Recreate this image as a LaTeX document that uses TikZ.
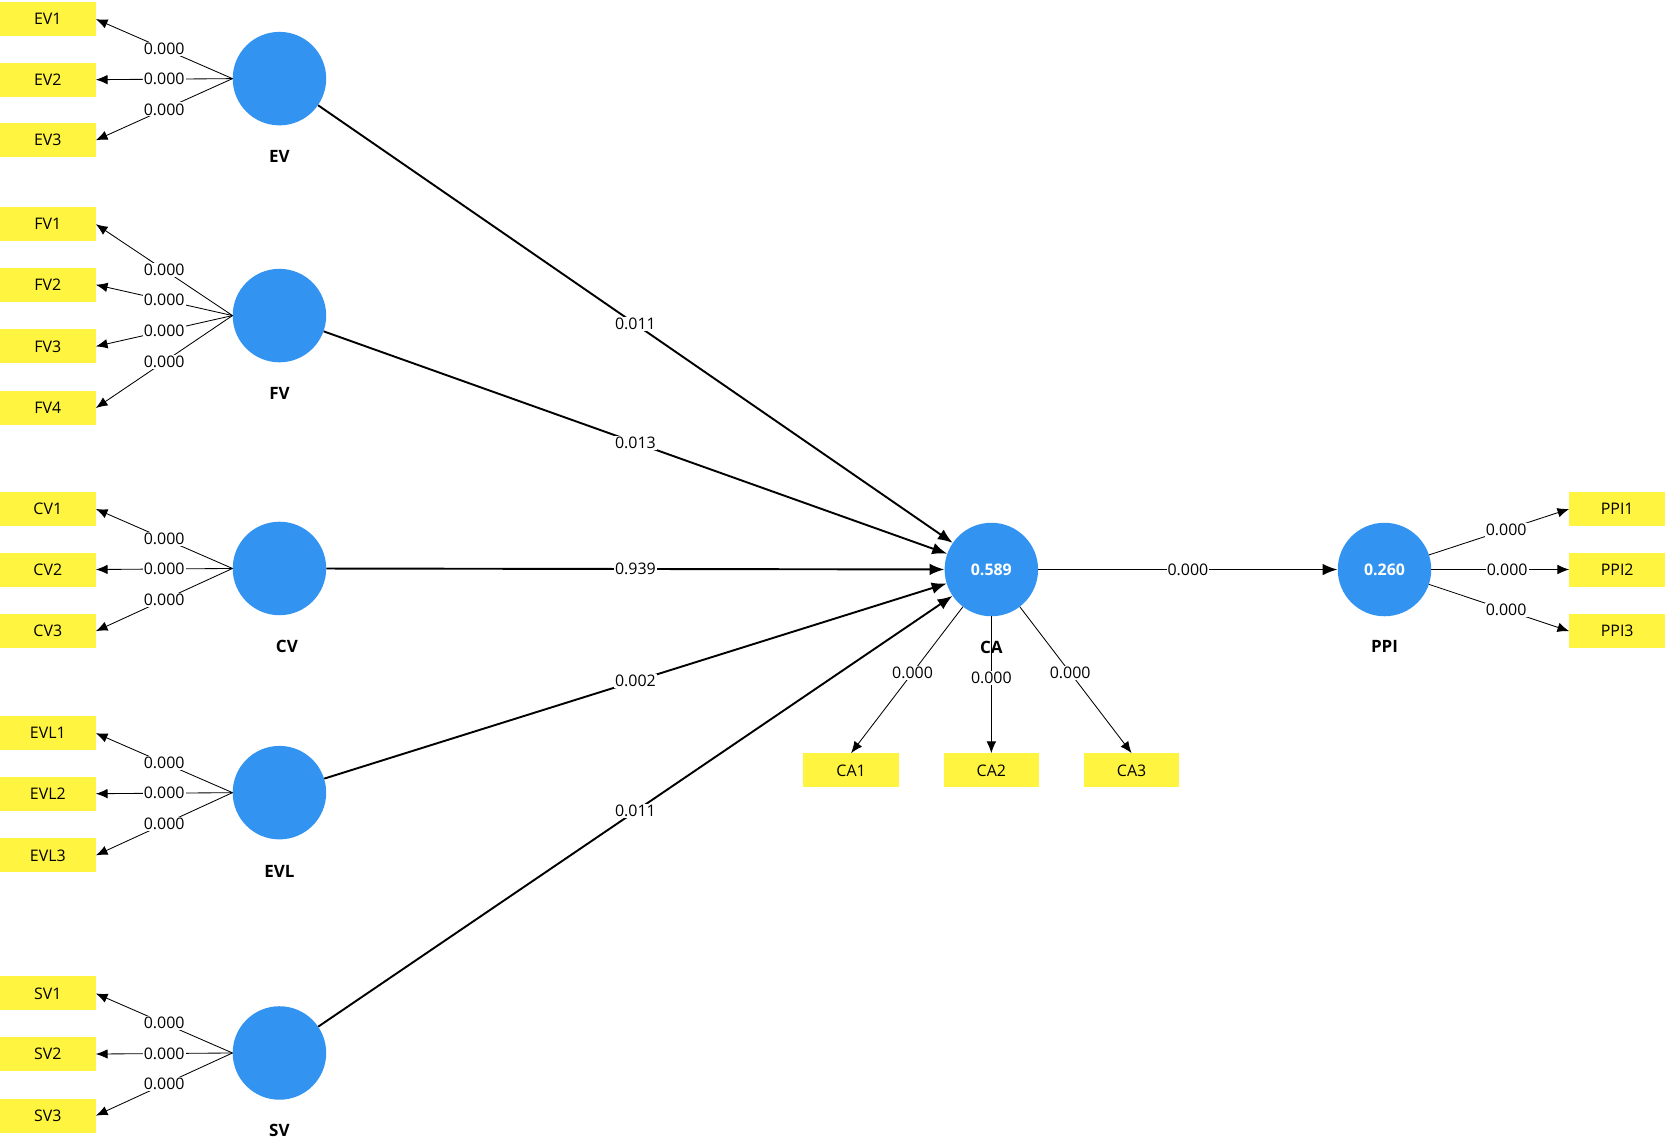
\documentclass[tikz,border=0pt]{standalone}
\usepackage{fontspec}
\setmainfont{Open Sans}
\usetikzlibrary{arrows.meta}
\begin{document}
\begin{tikzpicture}[x=1pt,y=-1pt,
    lat/.style={circle,fill=lv,minimum size=88pt,inner sep=0pt,text=white,font=\fontsize{15}{18}\selectfont\bfseries},
    ind/.style={fill=yellow!75,minimum width=90pt,minimum height=32pt,inner sep=0pt,font=\fontsize{15}{18}\selectfont},
    lvname/.style={font=\fontsize{16}{19}\selectfont\bfseries},
    load/.style={-{Latex[length=11pt,width=9pt]},line width=0.8pt},
    inner/.style={-{Latex[length=14pt,width=11pt]},line width=1.8pt},
    val/.style={fill=white,inner sep=1pt,font=\fontsize{15}{18}\selectfont}]
\definecolor{lv}{RGB}{50,148,240}
\useasboundingbox (0,0) rectangle (1567,1075);
% latent variables
\node[lat] (EV) at (263,74) {};
\node[lat] (FV) at (263,297) {};
\node[lat] (CV) at (263,535) {};
\node[lat] (EVL) at (263,746) {};
\node[lat] (SV) at (263,991) {};
\node[lat] (CA) at (933,536) {0.589};
\node[lat] (PPI) at (1303,536) {0.260};
\foreach \n/\x/\y in {EV/263/147,FV/263/370,CV/270/608,EVL/263/820,SV/263/1064,CA/933/609,PPI/1303/608}
  \node[lvname] (\n-name) at (\x,\y) {\n};
% indicators
\foreach \n/\y in {EV1/18,EV2/75,EV3/132,FV1/211,FV2/268,FV3/326,FV4/384,
    CV1/479,CV2/536,CV3/594,EVL1/690,EVL2/747,EVL3/805,SV1/935,SV2/992,SV3/1050}
  \node[ind] (\n) at (45,\y) {\n};
\foreach \n/\x in {CA1/801,CA2/933,CA3/1065}
  \node[ind] (\n) at (\x,725) {\n};
\foreach \n/\y in {PPI1/479,PPI2/536,PPI3/594}
  \node[ind] (\n) at (1522,\y) {\n};
% outer loadings
\foreach \l/\i in {EV/EV1,EV/EV2,EV/EV3,FV/FV1,FV/FV2,FV/FV3,FV/FV4,
    CV/CV1,CV/CV2,CV/CV3,EVL/EVL1,EVL/EVL2,EVL/EVL3,SV/SV1,SV/SV2,SV/SV3}
  \draw[load] (\l.west) -- (\i.east) node[val,pos=0.5] {0.000};
\foreach \i in {CA1,CA2,CA3}
  \draw[load] (CA) -- (\i.north) node[val,pos=0.45] {0.000};
\foreach \i in {PPI1,PPI2,PPI3}
  \draw[load] (PPI) -- (\i.west) node[val,pos=0.55] {0.000};
% inner model
\foreach \l/\v in {EV/0.011,FV/0.013,CV/0.939,EVL/0.002,SV/0.011}
  \draw[inner] (\l) -- (CA) node[val,pos=0.5] {\v};
\draw[inner] (CA) -- (PPI) node[val,pos=0.5] {0.000};
\end{tikzpicture}
\end{document}
